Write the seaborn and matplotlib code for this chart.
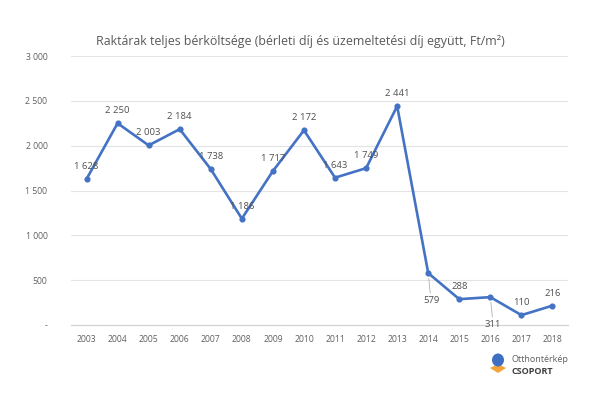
import matplotlib
matplotlib.use("Agg")
import matplotlib.pyplot as plt
import seaborn as sns
import pandas as pd
import numpy as np
from matplotlib.patches import Polygon, Ellipse

years = ["2003", "2004", "2005", "2006", "2007", "2008", "2009", "2010",
         "2011", "2012", "2013", "2014", "2015", "2016", "2017", "2018"]
values = [1628, 2250, 2003, 2184, 1738, 1186, 1717, 2172,
          1643, 1749, 2441, 579, 288, 311, 110, 216]
labels_below = ["2014", "2016"]
yticks = [0, 500, 1000, 1500, 2000, 2500, 3000]
ytick_labels = ["-", "500", "1 000", "1 500", "2 000", "2 500", "3 000"]
title = "Raktárak teljes bérköltsége (bérleti díj és üzemeltetési díj együtt, Ft/m²)"

sns.set_theme(style="white")
plt.rcParams["font.family"] = ["Open Sans", "DejaVu Sans"]

df = pd.DataFrame({"year": years, "value": values})

fig = plt.figure(figsize=(6.0, 3.94), dpi=100)
ax = fig.add_axes([71/600, 1-325/394, (568-71)/600, (325-56)/394])

line_color = "#4472C4"
sns.pointplot(data=df, x="year", y="value", color=line_color, ax=ax,
              markers="o", markersize=3.0, linewidth=1.9, errorbar=None)

ax.set_xlim(-0.5, len(years) - 0.5)
ax.set_ylim(0, 3000)
ax.set_yticks(yticks)
ax.set_yticklabels(ytick_labels)
ax.set_xlabel("")
ax.set_ylabel("")
ax.grid(axis="y", color="#E3E3E3", linewidth=0.8)
ax.set_axisbelow(True)
for s in ["top", "right", "left"]:
    ax.spines[s].set_visible(False)
ax.spines["bottom"].set_color("#D0D0D0")
ax.spines["bottom"].set_linewidth(0.8)

ax.tick_params(axis="y", length=0, pad=17, labelsize=6.2, labelcolor="#606060")
ax.tick_params(axis="x", which="major", length=0, pad=7, labelsize=6.2, labelcolor="#606060")
ax.set_xticks(np.arange(-0.5, len(years), 1.0), minor=True)
ax.tick_params(axis="x", which="minor", length=3, color="#D0D0D0", width=0.8, direction="out")

def fmt(v):
    return f"{v:,}".replace(",", " ")

for i, (yr, v) in enumerate(zip(years, values)):
    if yr in labels_below:
        ax.annotate(fmt(v), xy=(i, v), xytext=(2, -20), textcoords="offset points",
                    ha="center", va="center", fontsize=6.8, color="#505050",
                    arrowprops=dict(arrowstyle="-", color="#B0B0B0", lw=0.6,
                                    shrinkA=0, shrinkB=4))
    else:
        ax.annotate(fmt(v), xy=(i, v), xytext=(0, 9), textcoords="offset points",
                    ha="center", va="center", fontsize=6.8, color="#505050")

fig.text(300/600, 1-42/394, title, ha="center", va="center", fontsize=8.9, color="#595959")

# logo
def P(x, y):
    return [x/600, 1-y/394]

base = Polygon([P(490, 368), P(498, 364), P(506, 368), P(498, 373)], closed=True,
               transform=fig.transFigure, facecolor="#F2A33A", edgecolor="none")
fig.patches.append(base)
cube = Ellipse(P(498, 360), 12/600, 13/394, transform=fig.transFigure,
               facecolor="#3E6FC0", edgecolor="none")
fig.patches.append(cube)
fig.text(512/600, 1-360/394, "Otthontérkép", ha="left", va="center", fontsize=6.5, color="#606060")
fig.text(512/600, 1-371/394, "CSOPORT", ha="left", va="center", fontsize=6.5, color="#404040",
         fontweight="bold")

fig.savefig("out.png", dpi=100, facecolor="white")
